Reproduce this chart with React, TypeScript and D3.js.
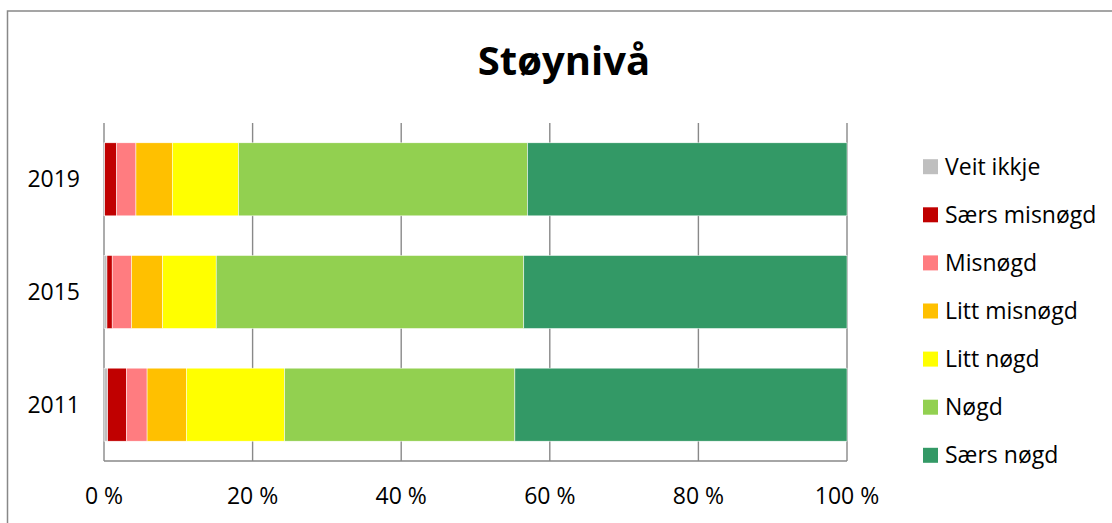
import React from "react";
import * as d3 from "d3";

const years = ["2019", "2015", "2011"];
const seriesNames = ["Veit ikkje", "Særs misnøgd", "Misnøgd", "Litt misnøgd", "Litt nøgd", "Nøgd", "Særs nøgd"];
const seriesColors = ["#BFBFBF", "#C00000", "#FF7C80", "#FFC000", "#FFFF00", "#92D050", "#339966"];
// values per year, in series order (percent)
const values2019 = [0.1, 1.6, 2.6, 4.9, 8.9, 38.9, 43.0];
const values2015 = [0.4, 0.7, 2.6, 4.2, 7.2, 41.4, 43.5];
const values2011 = [0.5, 2.5, 2.8, 5.3, 13.2, 31.0, 44.7];
const xTicks = [0, 20, 40, 60, 80, 100];

const valuesByYear: Record<string, number[]> = {
  "2019": values2019,
  "2015": values2015,
  "2011": values2011,
};

export default function App() {
  const W = 1112;
  const H = 523;
  const left = 104;
  const right = 847;
  const top = 123;
  const bottom = 461;

  const x = d3.scaleLinear().domain([0, 100]).range([left, right]);
  const y = d3
    .scaleBand<string>()
    .domain(years)
    .range([top, bottom])
    .paddingInner(0.352)
    .paddingOuter(0.176);

  const rows = years.map((yr) => {
    const o: any = { year: yr };
    seriesNames.forEach((s, i) => (o[s] = valuesByYear[yr][i]));
    return o;
  });
  const stack = d3.stack<any>().keys(seriesNames)(rows);

  const font = "'Open Sans', 'DejaVu Sans', sans-serif";
  const gridColor = "#898989";

  return (
    <svg
      width={W}
      height={H}
      style={{ position: "absolute", left: 0, top: 0, background: "#fff" }}
      fontFamily={font}
    >
      <rect x={0} y={0} width={W} height={H} fill="#fff" />
      <rect x={7.5} y={11} width={1300} height={700} fill="none" stroke="#888" strokeWidth={1.5} />
      <text x={564} y={75} textAnchor="middle" fontSize={40} fontWeight="bold" fill="#000">
        Støynivå
      </text>

      {xTicks.map((t) => (
        <line key={"g" + t} x1={x(t)} x2={x(t)} y1={top} y2={bottom} stroke={gridColor} strokeWidth={1.4} />
      ))}
      <line x1={left} x2={right} y1={bottom} y2={bottom} stroke={gridColor} strokeWidth={1.4} />

      {stack.map((layer, si) => (
        <g key={seriesNames[si]} fill={seriesColors[si]}>
          {layer.map((d: any) => (
            <rect
              key={d.data.year}
              x={x(d[0])}
              y={y(d.data.year)}
              width={Math.max(0, x(d[1]) - x(d[0]))}
              height={y.bandwidth()}
              stroke="#fff"
              strokeWidth={0.5}
            />
          ))}
        </g>
      ))}

      {years.map((yr) => (
        <text key={yr} x={80} y={(y(yr) as number) + y.bandwidth() / 2 + 8} textAnchor="end" fontSize={23} fill="#000">
          {yr}
        </text>
      ))}

      {xTicks.map((t) => (
        <text key={"t" + t} x={x(t)} y={504} textAnchor="middle" fontSize={23} fill="#000">
          {t} %
        </text>
      ))}

      {seriesNames.map((s, i) => {
        const cy = 166.7 + i * 48.1;
        return (
          <g key={s}>
            <rect x={923} y={cy - 7.5} width={15} height={15} fill={seriesColors[i]} />
            <text x={945} y={cy + 8} fontSize={23} fill="#000">
              {s}
            </text>
          </g>
        );
      })}
    </svg>
  );
}
